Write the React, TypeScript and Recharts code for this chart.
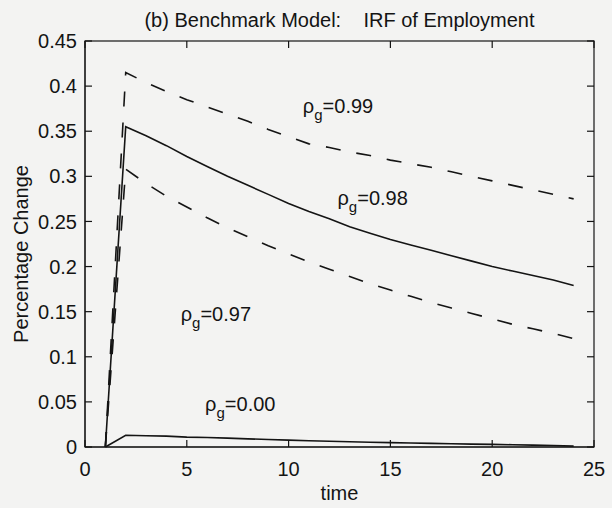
import { LineChart, Line, XAxis, YAxis, ReferenceDot } from "recharts";

// impulse response of employment, periods 1..24
const periods = [1, 2, 3, 4, 5, 6, 7, 8, 9, 10, 11, 12, 13, 14, 15, 16, 17, 18, 19, 20, 21, 22, 23, 24];
const rho99 = [0, 0.415, 0.404, 0.394, 0.385, 0.377, 0.369, 0.361, 0.352, 0.344, 0.336, 0.332, 0.327, 0.323, 0.318, 0.314, 0.31, 0.305, 0.3, 0.295, 0.29, 0.285, 0.28, 0.275];
const rho98 = [0, 0.355, 0.345, 0.334, 0.322, 0.311, 0.3, 0.29, 0.28, 0.27, 0.261, 0.253, 0.244, 0.237, 0.23, 0.224, 0.218, 0.212, 0.206, 0.2, 0.195, 0.19, 0.185, 0.179];
const rho97 = [0, 0.308, 0.292, 0.278, 0.266, 0.254, 0.243, 0.233, 0.223, 0.214, 0.205, 0.197, 0.189, 0.181, 0.174, 0.167, 0.16, 0.154, 0.148, 0.142, 0.136, 0.131, 0.126, 0.12];
const rho00 = [0, 0.013, 0.0125, 0.012, 0.011, 0.0105, 0.0098, 0.009, 0.0083, 0.0076, 0.007, 0.0064, 0.0058, 0.0053, 0.0048, 0.0044, 0.004, 0.0036, 0.0032, 0.0029, 0.0025, 0.0021, 0.0016, 0.001];

const xTicks = [0, 5, 10, 15, 20, 25];
const yTicks = [0, 0.05, 0.1, 0.15, 0.2, 0.25, 0.3, 0.35, 0.4, 0.45];

// curve labels, anchored at (time, value) of the text baseline start
const curveLabels = [
  { value: "0.99", t: 10.7, y: 0.37 },
  { value: "0.98", t: 12.4, y: 0.268 },
  { value: "0.97", t: 4.7, y: 0.14 },
  { value: "0.00", t: 5.9, y: 0.04 },
];

const data = periods.map((t, i) => ({
  t,
  rho99: rho99[i],
  rho98: rho98[i],
  rho97: rho97[i],
  rho00: rho00[i],
}));

const W = 612;
const H = 508;
const margin = { top: 41, right: 18, bottom: 0, left: 0 };
const yAxisW = 85;
const xAxisH = 61;
const xMax = 25;
const yMax = 0.45;

// plot box, from the layout above (used for the matlab-style frame)
const box = {
  left: margin.left + yAxisW,
  right: W - margin.right,
  top: margin.top,
  bottom: H - margin.bottom - xAxisH,
};
const sx = (t: number) => box.left + (t / xMax) * (box.right - box.left);
const sy = (v: number) => box.bottom - (v / yMax) * (box.bottom - box.top);
const IN = 7;

const font = "'Liberation Sans', Arial, Helvetica, sans-serif";
const ink = "#141414";

function RhoText({ cx, cy, value }: any) {
  return (
    <text x={cx} y={cy} fill={ink} fontSize={20} fontFamily={font}>
      ρ
      <tspan dy={7} fontSize={15}>
        g
      </tspan>
      <tspan dy={-7}>={value}</tspan>
    </text>
  );
}

function Frame() {
  return (
    <svg width={W} height={H} style={{ position: "absolute", left: 0, top: 0, pointerEvents: "none" }}>
      <rect
        x={box.left}
        y={box.top}
        width={box.right - box.left}
        height={box.bottom - box.top}
        fill="none"
        stroke={ink}
        strokeWidth={1.2}
      />
      {xTicks.map((t) => (
        <g key={`x${t}`}>
          <line x1={sx(t)} x2={sx(t)} y1={box.bottom} y2={box.bottom - IN} stroke={ink} strokeWidth={1.2} />
          <line x1={sx(t)} x2={sx(t)} y1={box.top} y2={box.top + IN} stroke={ink} strokeWidth={1.2} />
        </g>
      ))}
      {yTicks.map((v) => (
        <g key={`y${v}`}>
          <line x1={box.left} x2={box.left + IN} y1={sy(v)} y2={sy(v)} stroke={ink} strokeWidth={1.2} />
          <line x1={box.right} x2={box.right - IN} y1={sy(v)} y2={sy(v)} stroke={ink} strokeWidth={1.2} />
        </g>
      ))}
    </svg>
  );
}

export default function App() {
  return (
    <div style={{ position: "absolute", left: 0, top: 0, width: W, height: H, background: "#f3f3f2", fontFamily: font }}>
      <div
        style={{
          position: "absolute",
          left: box.left,
          width: box.right - box.left,
          top: 9,
          textAlign: "center",
          fontSize: 20,
          color: ink,
          whiteSpace: "pre",
        }}
      >
        (b) Benchmark Model:    IRF of Employment
      </div>
      <LineChart width={W} height={H} data={data} margin={margin}>
        <XAxis
          dataKey="t"
          type="number"
          domain={[0, xMax]}
          ticks={xTicks}
          height={xAxisH}
          stroke={ink}
          tickLine={false}
          tickMargin={9}
          tick={{ fill: ink, fontSize: 20, fontFamily: font }}
          label={{ value: "time", position: "insideBottom", offset: 8, fill: ink, fontSize: 20, fontFamily: font }}
        />
        <YAxis
          type="number"
          domain={[0, yMax]}
          ticks={yTicks}
          width={yAxisW}
          stroke={ink}
          tickLine={false}
          tickMargin={2}
          tick={{ fill: ink, fontSize: 20, fontFamily: font }}
          label={{ value: "Percentage Change", angle: -90, position: "center", dx: -22, dy: 10, fill: ink, fontSize: 20, fontFamily: font }}
        />
        <Line dataKey="rho99" stroke={ink} strokeWidth={1.6} strokeDasharray="15 16" dot={false} isAnimationActive={false} type="linear" />
        <Line dataKey="rho98" stroke={ink} strokeWidth={1.6} dot={false} isAnimationActive={false} type="linear" />
        <Line dataKey="rho97" stroke={ink} strokeWidth={1.6} strokeDasharray="15 16" dot={false} isAnimationActive={false} type="linear" />
        <Line dataKey="rho00" stroke={ink} strokeWidth={1.6} dot={false} isAnimationActive={false} type="linear" />
        {curveLabels.map((l) => (
          <ReferenceDot key={l.value} x={l.t} y={l.y} r={1} shape={(p: any) => <RhoText cx={p.cx} cy={p.cy} value={l.value} />} />
        ))}
      </LineChart>
      <Frame />
    </div>
  );
}
